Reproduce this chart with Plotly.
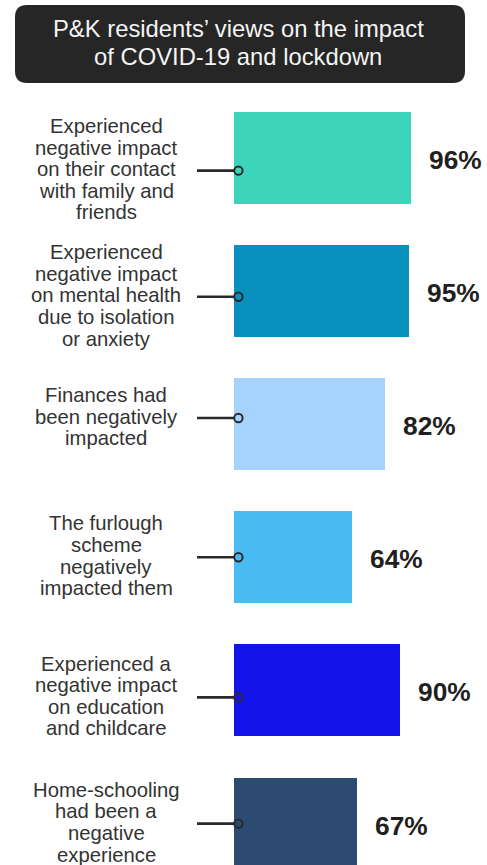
import plotly.graph_objects as go

# ---- data ----
categories = [
    "Experienced<br>negative impact<br>on their contact<br>with family and<br>friends",
    "Experienced<br>negative impact<br>on mental health<br>due to isolation<br>or anxiety",
    "Finances had<br>been negatively<br>impacted",
    "The furlough<br>scheme<br>negatively<br>impacted them",
    "Experienced a<br>negative impact<br>on education<br>and childcare",
    "Home-schooling<br>had been a<br>negative<br>experience",
]
values = [96, 95, 82, 64, 90, 67]
title_lines = ["P&K residents’ views on the impact", "of COVID-19 and lockdown"]

# ---- style ----
bar_colors = ["#3dd4bc", "#088fbb", "#a6d3fe", "#4abaf3", "#1414ea", "#2d4b70"]
label_offset_px = [13, 6, -6, 0, 7, 0]   # vertical offset of label/connector (down +)
FONT = "Liberation Sans, Arial, sans-serif"
W, H = 487, 865
ML, MR, MT, MB = 197, 69, 91, 0
line_gap = 21.6

pos = list(range(len(categories)))

fig = go.Figure()
fig.add_trace(go.Bar(
    x=values, y=pos, orientation="h",
    marker=dict(color=bar_colors, line=dict(width=0)),
    width=0.69, hoverinfo="skip", showlegend=False,
))

shapes = []
annotations = []

# title box
bx0, bx1 = 15 - ML, 465 - ML
by1, by0 = MT - 5, MT - 83
r = 12
path = (f"M {bx0+r},{by1} L {bx1-r},{by1} Q {bx1},{by1} {bx1},{by1-r} "
        f"L {bx1},{by0+r} Q {bx1},{by0} {bx1-r},{by0} L {bx0+r},{by0} "
        f"Q {bx0},{by0} {bx0},{by0+r} L {bx0},{by1-r} Q {bx0},{by1} {bx0+r},{by1} Z")
shapes.append(dict(type="path", xref="paper", yref="paper",
                   xsizemode="pixel", ysizemode="pixel", xanchor=0, yanchor=1,
                   path=path, fillcolor="#262626", line=dict(width=0), layer="above"))
for k, (t, cy) in enumerate(zip(title_lines, [28.5, 56.8])):
    annotations.append(dict(text=t, xref="paper", yref="paper", x=0, y=1,
                            xshift=238 - ML, yshift=MT - cy, xanchor="center", yanchor="middle",
                            showarrow=False, font=dict(family=FONT, size=23.8, color="#f4f4f4")))

for i, (cat, v, off) in enumerate(zip(categories, values, label_offset_px)):
    # connector line + circle
    shapes.append(dict(type="line", xref="x", yref="y", xsizemode="pixel", ysizemode="pixel",
                       xanchor=0, yanchor=i, x0=-37, x1=0, y0=-off, y1=-off,
                       line=dict(color="#2a2a2a", width=2.6), layer="above"))
    shapes.append(dict(type="circle", xref="x", yref="y", xsizemode="pixel", ysizemode="pixel",
                       xanchor=0, yanchor=i, x0=0.2, x1=8.6, y0=-off - 4.2, y1=-off + 4.2,
                       line=dict(color="#2a2a2a", width=2), fillcolor="rgba(0,0,0,0)", layer="above"))
    # label lines
    lines = cat.split("<br>")
    n = len(lines)
    for k, ln in enumerate(lines):
        dy = off + (k - (n - 1) / 2) * line_gap
        annotations.append(dict(text=ln, xref="x", yref="y", x=0, y=i,
                                xshift=106 - 234, yshift=-dy + 1.5,
                                xanchor="center", yanchor="middle", showarrow=False,
                                font=dict(family=FONT, size=20.3, color="#333333")))
    # value label
    annotations.append(dict(text=f"{v}%", xref="x", yref="y", x=v, y=i,
                            xanchor="left", yanchor="middle", xshift=16, yshift=-2,
                            showarrow=False,
                            font=dict(family=FONT, size=26.3, color="#231f20", weight="bold")))

px_per_unit_x = 1.84
x_left = -(234 - ML) / px_per_unit_x
x_right = x_left + (W - ML - MR) / px_per_unit_x
bar_pitch = 133.2
y_top = -0.5
y_bottom = y_top + (H - MT - MB) / bar_pitch

fig.update_layout(
    width=W, height=H,
    margin=dict(l=ML, r=MR, t=MT, b=MB, pad=0),
    paper_bgcolor="white", plot_bgcolor="white",
    xaxis=dict(range=[x_left, x_right], visible=False, fixedrange=True),
    yaxis=dict(range=[y_bottom, y_top], visible=False, fixedrange=True),
    shapes=shapes, annotations=annotations,
    bargap=0,
)

fig.write_html(
    "out.html",
    config={"displayModeBar": False},
    post_script="document.body.style.margin='0';document.body.style.overflow='hidden';",
)
